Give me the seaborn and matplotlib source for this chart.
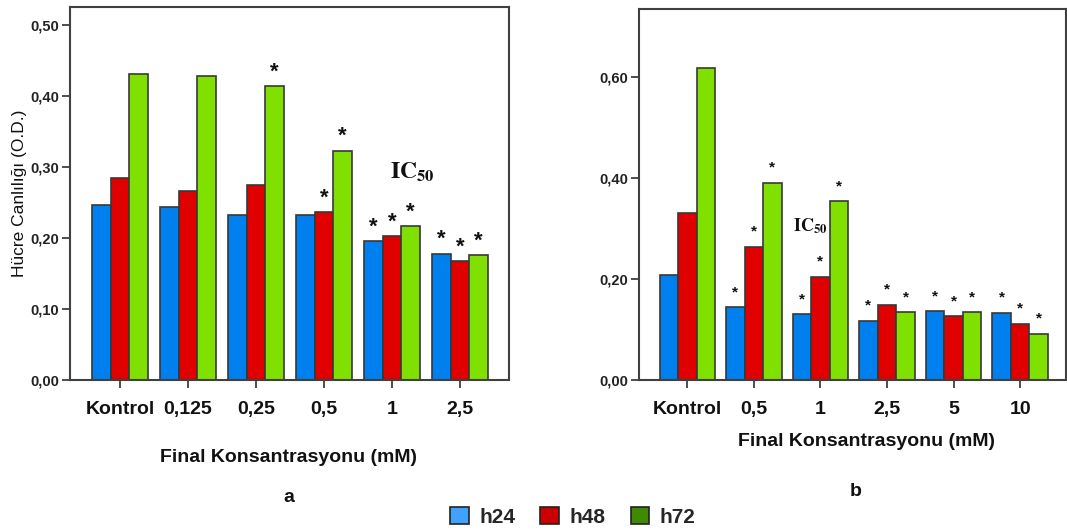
import numpy as np
import pandas as pd
import matplotlib
matplotlib.use("Agg")
import matplotlib.pyplot as plt
from matplotlib.patches import Patch
import seaborn as sns

# ---------------- data ----------------
series = ["h24", "h48", "h72"]

cats_a = ["Kontrol", "0,125", "0,25", "0,5", "1", "2,5"]
h24_a = [0.246, 0.244, 0.232, 0.232, 0.195, 0.178]
h48_a = [0.285, 0.266, 0.275, 0.237, 0.202, 0.168]
h72_a = [0.430, 0.428, 0.414, 0.323, 0.217, 0.176]
sig24_a = [0, 0, 0, 0, 1, 1]
sig48_a = [0, 0, 0, 1, 1, 1]
sig72_a = [0, 0, 1, 1, 1, 1]

cats_b = ["Kontrol", "0,5", "1", "2,5", "5", "10"]
h24_b = [0.209, 0.144, 0.130, 0.117, 0.136, 0.133]
h48_b = [0.330, 0.264, 0.204, 0.149, 0.126, 0.111]
h72_b = [0.618, 0.390, 0.354, 0.134, 0.134, 0.091]
sig24_b = [0, 1, 1, 1, 1, 1]
sig48_b = [0, 1, 1, 1, 1, 1]
sig72_b = [0, 1, 1, 1, 1, 1]

yticks_a = [0.0, 0.1, 0.2, 0.3, 0.4, 0.5]
yticks_b = [0.0, 0.2, 0.4, 0.6]

ylabel = "Hücre Canlılığı (O.D.)"
xlabel = "Final Konsantrasyonu (mM)"

bar_colors = ["#0080EE", "#E00000", "#80E000"]
legend_colors = ["#3FA2FF", "#CC0000", "#3F8A00"]
edge = "#383838"


def make_df(cats, a, b, c):
    rows = []
    for s, vals in zip(series, [a, b, c]):
        for cat, v in zip(cats, vals):
            rows.append({"conc": cat, "time": s, "value": v})
    return pd.DataFrame(rows)


sns.set_style("white")
plt.rcParams["font.family"] = ["Liberation Sans", "DejaVu Sans"]
plt.rcParams["mathtext.fontset"] = "stix"

W, H = 1067, 532
fig = plt.figure(figsize=(W / 100, H / 100), dpi=100)


def px_axes(x0, y0, x1, y1):
    return fig.add_axes([x0 / W, 1 - y1 / H, (x1 - x0) / W, (y1 - y0) / H])


def draw(ax, df, cats, width, ylim, xlim, yticks, sigs, ast_size, ast_off):
    sns.barplot(data=df, x="conc", y="value", hue="time", order=cats,
                hue_order=series, palette=bar_colors, width=width, gap=0,
                saturation=1, edgecolor=edge, linewidth=1.2, legend=False,
                errorbar=None, ax=ax)
    ax.set_ylim(*ylim)
    ax.set_xlim(*xlim)
    ax.set_yticks(yticks)
    ax.set_yticklabels([f"{t:.2f}".replace(".", ",") for t in yticks],
                       fontsize=10.5, fontweight="bold", color="#222222")
    ax.set_xticks(range(len(cats)))
    ax.set_xticklabels(cats, fontsize=14, fontweight="bold", color="#111111")
    ax.tick_params(axis="x", direction="out", length=6, width=1.3,
                   color="#404040", pad=9, bottom=True)
    ax.tick_params(axis="y", direction="out", length=6, width=1.3,
                   color="#404040", pad=2, left=True)
    ax.set_xlabel("")
    ax.set_ylabel("")
    for sp in ax.spines.values():
        sp.set_color("#404040")
        sp.set_linewidth(1.5)
    for cont, flags in zip(ax.containers, sigs):
        for bar, f in zip(cont, flags):
            if f:
                ax.annotate("*", (bar.get_x() + bar.get_width() / 2, bar.get_height()),
                            xytext=(0, ast_off), textcoords="offset points",
                            ha="center", va="center", fontsize=ast_size,
                            fontweight="bold", color="#111111")


ax_a = px_axes(70, 7, 509, 380)
draw(ax_a, make_df(cats_a, h24_a, h48_a, h72_a), cats_a, 0.82,
     (0, 0.525), (-0.735, 5.72), yticks_a, [sig24_a, sig48_a, sig72_a], 16, 10)
ax_a.text(4.3, 0.292, r"$\mathbf{IC}_{\mathbf{50}}$", fontsize=17,
          ha="center", va="center", color="#111111")

ax_b = px_axes(639, 9, 1066, 380)
draw(ax_b, make_df(cats_b, h24_b, h48_b, h72_b), cats_b, 0.836,
     (0, 0.735), (-0.727, 5.69), yticks_b, [sig24_b, sig48_b, sig72_b], 11, 11)
ax_b.text(1.85, 0.305, r"$\mathbf{IC}_{\mathbf{50}}$", fontsize=13,
          ha="center", va="center", color="#111111")

fig.text(20 / W, 1 - 193 / H, ylabel, fontsize=12.5, rotation=90,
         ha="center", va="center", color="#111111")
fig.text(289 / W, 1 - 458 / H, xlabel, fontsize=14, fontweight="bold",
         ha="center", va="center", color="#111111")
fig.text(867 / W, 1 - 442 / H, xlabel, fontsize=14, fontweight="bold",
         ha="center", va="center", color="#111111")
fig.text(289 / W, 1 - 497 / H, "a", fontsize=14, fontweight="bold",
         ha="center", va="center", color="#111111")
fig.text(856 / W, 1 - 492 / H, "b", fontsize=14, fontweight="bold",
         ha="center", va="center", color="#111111")

handles = [Patch(facecolor=c, edgecolor="#222222", linewidth=1.2) for c in legend_colors]
fig.legend(handles, series, loc="center", bbox_to_anchor=(573 / W, 1 - 517 / H),
           ncol=3, frameon=False, handlelength=0.9, handleheight=0.9,
           handletextpad=0.5, columnspacing=1.2,
           prop={"size": 15, "weight": "bold", "family": "Liberation Sans"})

fig.savefig("out.png", dpi=100)
